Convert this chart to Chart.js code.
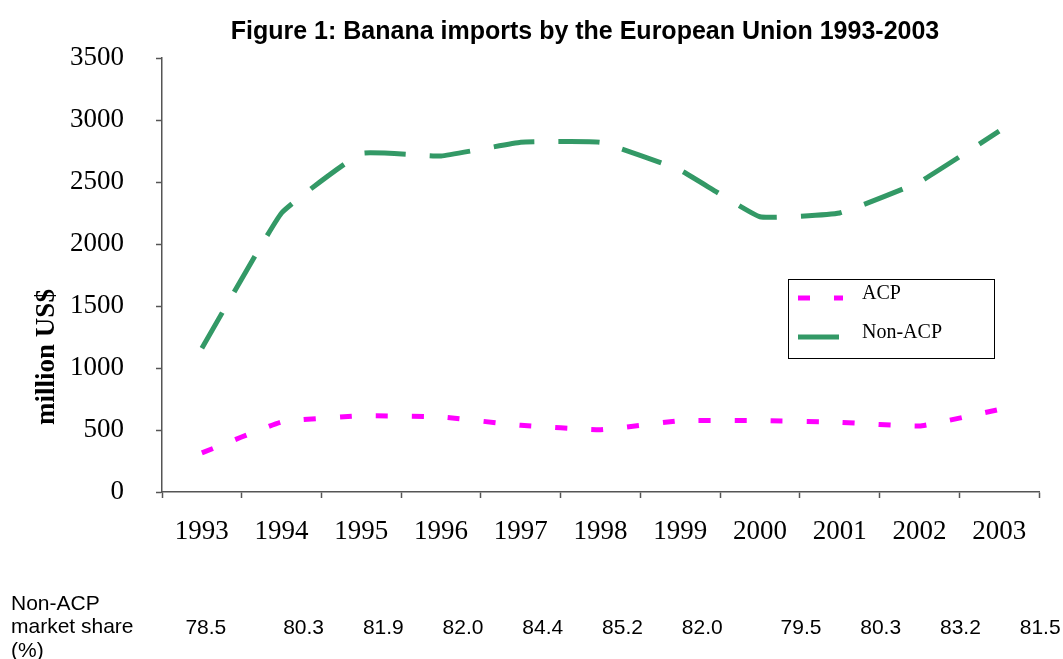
<!DOCTYPE html>
<html>
<head>
<meta charset="utf-8">
<title>Banana imports by the European Union 1993-2003</title>
<script src="https://cdn.jsdelivr.net/npm/chart.js@4/dist/chart.umd.min.js"></script>
<style>
  html, body { margin: 0; padding: 0; background: #fff; }
  #wrap { width: 1063px; height: 659px; position: relative; }
</style>
</head>
<body>
<div id="wrap"><canvas id="bananaChart" width="1063" height="659"></canvas></div>
<script>
// Data
const years = ['1993', '1994', '1995', '1996', '1997', '1998', '1999', '2000', '2001', '2002', '2003'];
const acpImports = [315, 565, 615, 605, 538, 502, 575, 575, 562, 532, 665];
const nonAcpImports = [1160, 2250, 2730, 2710, 2820, 2820, 2595, 2220, 2250, 2500, 2910];
const nonAcpShare = ['78.5', '80.3', '81.9', '82.0', '84.4', '85.2', '82.0', '79.5', '80.3', '83.2', '81.5'];
const yTicks = [0, 500, 1000, 1500, 2000, 2500, 3000, 3500];

const titleText = 'Figure 1: Banana imports by the European Union 1993-2003';
const yTitleText = 'million US$';
const shareLabel = ['Non-ACP', 'market share', '(%)'];

const serif = '"Liberation Serif", "Times New Roman", serif';
const sans = '"Liberation Sans", Arial, sans-serif';

// Title, axis title, legend box and the market share row
const decorPlugin = {
    id: 'decor',
    afterDraw(chart) {
        const ctx = chart.ctx;
        const x = chart.scales.x;
        ctx.save();

        // title
        ctx.fillStyle = '#000';
        ctx.font = 'bold 25px ' + sans;
        ctx.textAlign = 'center';
        ctx.textBaseline = 'middle';
        ctx.fillText(titleText, 585, 32);

        // y axis title
        ctx.save();
        ctx.translate(47, 357);
        ctx.rotate(-Math.PI / 2);
        ctx.font = 'bold 27px ' + serif;
        ctx.fillText(yTitleText, 0, 0);
        ctx.restore();

        // legend
        const lx = 788, ly = 279, lw = 206, lh = 79;
        ctx.strokeStyle = '#000';
        ctx.lineWidth = 1;
        ctx.strokeRect(lx + 0.5, ly + 0.5, lw, lh);
        chart.data.datasets.forEach((ds, i) => {
            const rowY = ly + 19 + i * 39;
            ctx.save();
            ctx.strokeStyle = ds.borderColor;
            ctx.lineWidth = ds.borderWidth;
            ctx.setLineDash(ds.borderDash);
            ctx.beginPath();
            ctx.moveTo(lx + 10, rowY);
            ctx.lineTo(lx + 55, rowY);
            ctx.stroke();
            ctx.restore();
            ctx.fillStyle = '#000';
            ctx.font = '20px ' + serif;
            ctx.textAlign = 'left';
            ctx.textBaseline = 'middle';
            ctx.fillText(ds.label, lx + 74, rowY - 4);
        });

        // Non-ACP market share row under the chart
        ctx.font = '21px ' + sans;
        ctx.textAlign = 'left';
        ctx.textBaseline = 'middle';
        shareLabel.forEach((t, i) => ctx.fillText(t, 11, 604 + i * 23.5));
        ctx.textAlign = 'center';
        nonAcpShare.forEach((v, i) => {
            let shift = 4;
            if (i >= 1) shift = 22;
            if (i >= 7) shift = 41;
            ctx.fillText(v, x.getPixelForValue(i) + shift, 628);
        });
        ctx.restore();
    }
};

function initBananaChart() {
    const ctx = document.getElementById('bananaChart').getContext('2d');
    new Chart(ctx, {
        type: 'line',
        data: {
            labels: years,
            datasets: [{
                label: 'ACP',
                data: acpImports,
                borderColor: '#FF00FF',
                borderWidth: 5,
                borderDash: [12, 24],
                borderCapStyle: 'butt',
                pointRadius: 0,
                tension: 0.1,
                fill: false
            }, {
                label: 'Non-ACP',
                data: nonAcpImports,
                borderColor: '#339966',
                borderWidth: 5,
                borderDash: [41, 24],
                borderCapStyle: 'butt',
                pointRadius: 0,
                tension: 0.1,
                fill: false
            }]
        },
        options: {
            responsive: false,
            animation: false,
            devicePixelRatio: 1,
            layout: {
                padding: { left: 0, right: 24, top: 58, bottom: 0 }
            },
            plugins: {
                legend: { display: false },
                title: { display: false },
                tooltip: { enabled: false }
            },
            scales: {
                x: {
                    offset: true,
                    afterFit: function(scale) { scale.height = 167; },
                    grid: {
                        offset: true,
                        drawOnChartArea: false,
                        drawTicks: true,
                        tickLength: 6,
                        tickColor: '#555',
                        tickWidth: 1.5
                    },
                    border: { color: '#555', width: 1.5 },
                    ticks: {
                        color: '#000',
                        font: { family: serif, size: 27 },
                        padding: 18,
                        maxRotation: 0
                    }
                },
                y: {
                    min: 0,
                    max: 3500,
                    afterFit: function(scale) { scale.width = 162; },
                    afterBuildTicks: function(scale) {
                        scale.ticks = yTicks.map(v => ({ value: v }));
                    },
                    grid: {
                        drawOnChartArea: false,
                        drawTicks: true,
                        tickLength: 6,
                        tickColor: '#555',
                        tickWidth: 1.5
                    },
                    border: { color: '#555', width: 1.5 },
                    ticks: {
                        color: '#000',
                        font: { family: serif, size: 27 },
                        padding: 32,
                        callback: function(value) { return String(value); }
                    }
                }
            }
        },
        plugins: [decorPlugin]
    });
}

document.addEventListener('DOMContentLoaded', () => {
    initBananaChart();
});
</script>
</body>
</html>
